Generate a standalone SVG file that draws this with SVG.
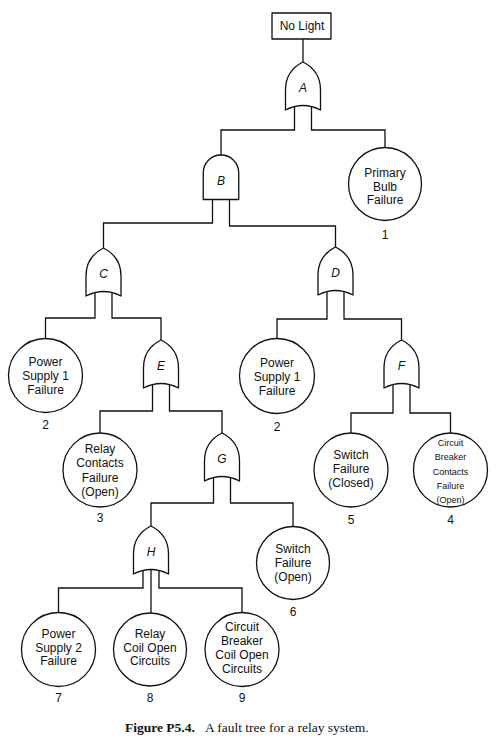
<svg xmlns="http://www.w3.org/2000/svg" xmlns:xlink="http://www.w3.org/1999/xlink" width="502" height="742" viewBox="0 0 502 742">
<style>
.ln{fill:none;stroke:#111;stroke-width:1.3}
.g{fill:#fff;stroke:#111;stroke-width:1.3;stroke-linejoin:round}
.t{font-family:"Liberation Sans",Arial,sans-serif;font-size:12px;fill:#111;text-anchor:middle}
.gl{font-style:italic}
.s{font-size:9px}
.cap{font-family:"Liberation Serif","Times New Roman",serif;font-size:13.5px;fill:#111}
</style>
<defs>
<path id="or" d="M0,0 C6,3 17.5,10 17.5,28 L17.5,48 Q0,39 -17.5,48 L-17.5,28 C-17.5,10 -6,3 0,0 Z"/>
<path id="and" d="M-17.75,44.5 L-17.75,17.75 A17.75,17.75 0 0 1 17.75,17.75 L17.75,44.5 Z"/>
</defs>
<g id="connectors" class="ln">
<path d="M303,39 V62"/>
<path d="M294.5,104 V130 H221 V155"/>
<path d="M311.5,104 V130 H385 V147.5"/>
<path d="M212.5,195 V223 H103.5 V248"/>
<path d="M229.5,195 V226 H335.5 V247"/>
<path d="M95,290 V318 H45.5 V338.5"/>
<path d="M112,290 V318 H161 V340"/>
<path d="M327,290 V319 H277 V338.5"/>
<path d="M344,290 V319 H401.5 V340"/>
<path d="M152.5,382 V411 H100 V433"/>
<path d="M169.5,382 V411 H222 V433"/>
<path d="M393,382 V413 H351 V433"/>
<path d="M410,382 V413 H450.5 V433"/>
<path d="M213.5,475 V503 H151 V526"/>
<path d="M230.5,475 V503 H293 V526.5"/>
<path d="M143,568 V588 H58.5 V612.5"/>
<path d="M151,568 V613"/>
<path d="M159,568 V588 H242 V612.5"/>
</g>
<g id="top">
<rect class="g" x="272" y="13" width="59" height="26"/>
<text class="t" x="302" y="29.5">No Light</text>
</g>
<g id="gateA"><use xlink:href="#or" href="#or" x="303" y="62" class="g"/><text class="t gl" x="303" y="92">A</text></g>
<g id="gateB"><use xlink:href="#and" href="#and" x="221" y="155" class="g"/><text class="t gl" x="221" y="185">B</text></g>
<g id="gateC"><use xlink:href="#or" href="#or" x="103.5" y="248" class="g"/><text class="t gl" x="103.5" y="278">C</text></g>
<g id="gateD"><use xlink:href="#or" href="#or" x="335.5" y="247" class="g"/><text class="t gl" x="335.5" y="277">D</text></g>
<g id="gateE"><use xlink:href="#or" href="#or" x="161" y="340" class="g"/><text class="t gl" x="161" y="370">E</text></g>
<g id="gateF"><use xlink:href="#or" href="#or" x="401.5" y="340" class="g"/><text class="t gl" x="401.5" y="370">F</text></g>
<g id="gateG"><use xlink:href="#or" href="#or" x="222" y="433" class="g"/><text class="t gl" x="222" y="463">G</text></g>
<g id="gateH"><use xlink:href="#or" href="#or" x="151" y="526" class="g"/><text class="t gl" x="151" y="556">H</text></g>
<g id="ev1">
<circle class="g" cx="385" cy="184" r="36.5"/>
<text class="t" x="385" y="177">Primary</text><text class="t" x="385" y="190.5">Bulb</text><text class="t" x="385" y="204">Failure</text>
<text class="t" x="385" y="239">1</text>
</g>
<g id="ev2a">
<circle class="g" cx="45.5" cy="375.5" r="37"/>
<text class="t" x="45.5" y="366">Power</text><text class="t" x="45.5" y="380">Supply 1</text><text class="t" x="45.5" y="394">Failure</text>
<text class="t" x="45.5" y="429">2</text>
</g>
<g id="ev2b">
<circle class="g" cx="277" cy="376" r="37.5"/>
<text class="t" x="277" y="366.5">Power</text><text class="t" x="277" y="381">Supply 1</text><text class="t" x="277" y="395">Failure</text>
<text class="t" x="277" y="431">2</text>
</g>
<g id="ev3">
<circle class="g" cx="100" cy="470" r="37"/>
<text class="t" x="100" y="453">Relay</text><text class="t" x="100" y="467">Contacts</text><text class="t" x="100" y="481.5">Failure</text><text class="t" x="100" y="496">(Open)</text>
<text class="t" x="100" y="522">3</text>
</g>
<g id="ev5">
<circle class="g" cx="351" cy="470" r="37"/>
<text class="t" x="351" y="458.5">Switch</text><text class="t" x="351" y="472.5">Failure</text><text class="t" x="351" y="486.5">(Closed)</text>
<text class="t" x="351" y="524">5</text>
</g>
<g id="ev4">
<circle class="g" cx="450.5" cy="470" r="37"/>
<text class="t s" x="450.5" y="445.5">Circuit</text><text class="t s" x="450.5" y="460">Breaker</text><text class="t s" x="450.5" y="474.5">Contacts</text><text class="t s" x="450.5" y="488.5">Failure</text><text class="t s" x="450.5" y="502.5">(Open)</text>
<text class="t" x="450.5" y="524">4</text>
</g>
<g id="ev6">
<circle class="g" cx="293" cy="563" r="36.5"/>
<text class="t" x="293" y="552.5">Switch</text><text class="t" x="293" y="566.5">Failure</text><text class="t" x="293" y="580.5">(Open)</text>
<text class="t" x="293" y="616">6</text>
</g>
<g id="ev7">
<circle class="g" cx="58.5" cy="649.5" r="37"/>
<text class="t" x="58.5" y="637.5">Power</text><text class="t" x="58.5" y="651.5">Supply 2</text><text class="t" x="58.5" y="665">Failure</text>
<text class="t" x="58.5" y="702">7</text>
</g>
<g id="ev8">
<circle class="g" cx="150" cy="649.5" r="36.5"/>
<text class="t" x="150" y="637.5">Relay</text><text class="t" x="150" y="651.5">Coil Open</text><text class="t" x="150" y="665">Circuits</text>
<text class="t" x="150" y="702">8</text>
</g>
<g id="ev9">
<circle class="g" cx="242" cy="649.5" r="37"/>
<text class="t" x="242" y="630.5">Circuit</text><text class="t" x="242" y="644.5">Breaker</text><text class="t" x="242" y="658.5">Coil Open</text><text class="t" x="242" y="672.5">Circuits</text>
<text class="t" x="242" y="702">9</text>
</g>
<g id="caption">
<text class="cap" x="125" y="732"><tspan font-weight="bold">Figure P5.4.</tspan><tspan dx="10">A fault tree for a relay system.</tspan></text>
</g>
</svg>
